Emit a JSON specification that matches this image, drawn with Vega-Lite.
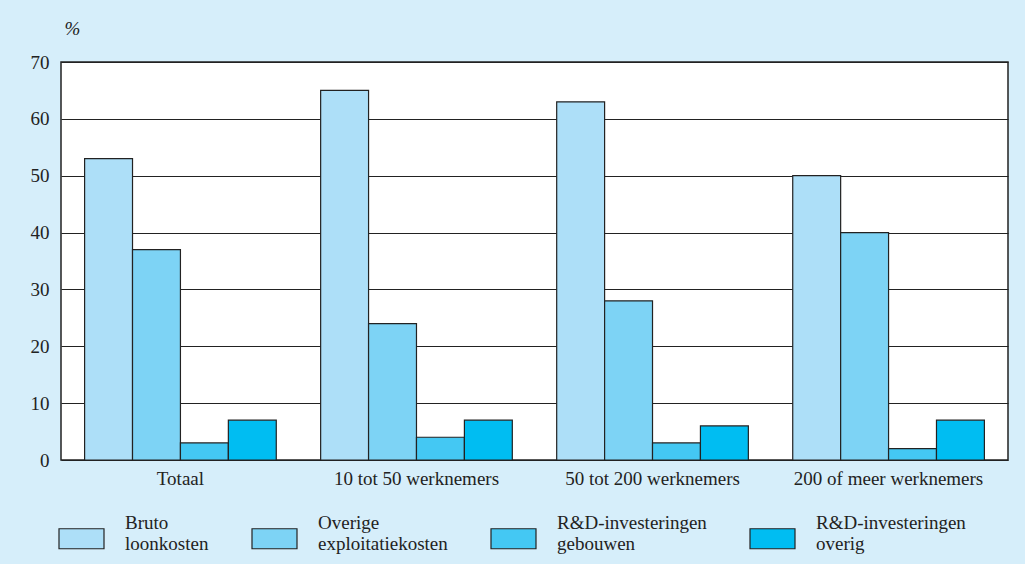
{
  "$schema": "https://vega.github.io/schema/vega-lite/v6.json",
  "autosize": {"type": "none"},
  "width": 947,
  "height": 398,
  "padding": {"left": 61, "top": 62, "right": 17, "bottom": 104},
  "background": "#d6eefa",
  "config": {
    "font": "Liberation Serif",
    "view": {"fill": "white", "stroke": "#222", "strokeWidth": 1.5},
    "axis": {"labelFont": "Liberation Serif", "titleFont": "Liberation Serif", "labelColor": "#222", "titleColor": "#222"},
    "legend": {"labelFont": "Liberation Serif", "labelColor": "#222"}
  },
  "data": {
    "values": [
      {"groep": "Totaal", "kosten": "Bruto loonkosten", "pct": 53},
      {"groep": "Totaal", "kosten": "Overige exploitatiekosten", "pct": 37},
      {"groep": "Totaal", "kosten": "R&D-investeringen gebouwen", "pct": 3},
      {"groep": "Totaal", "kosten": "R&D-investeringen overig", "pct": 7},
      {"groep": "10 tot 50 werknemers", "kosten": "Bruto loonkosten", "pct": 65},
      {"groep": "10 tot 50 werknemers", "kosten": "Overige exploitatiekosten", "pct": 24},
      {"groep": "10 tot 50 werknemers", "kosten": "R&D-investeringen gebouwen", "pct": 4},
      {"groep": "10 tot 50 werknemers", "kosten": "R&D-investeringen overig", "pct": 7},
      {"groep": "50 tot 200 werknemers", "kosten": "Bruto loonkosten", "pct": 63},
      {"groep": "50 tot 200 werknemers", "kosten": "Overige exploitatiekosten", "pct": 28},
      {"groep": "50 tot 200 werknemers", "kosten": "R&D-investeringen gebouwen", "pct": 3},
      {"groep": "50 tot 200 werknemers", "kosten": "R&D-investeringen overig", "pct": 6},
      {"groep": "200 of meer werknemers", "kosten": "Bruto loonkosten", "pct": 50},
      {"groep": "200 of meer werknemers", "kosten": "Overige exploitatiekosten", "pct": 40},
      {"groep": "200 of meer werknemers", "kosten": "R&D-investeringen gebouwen", "pct": 2},
      {"groep": "200 of meer werknemers", "kosten": "R&D-investeringen overig", "pct": 7}
    ]
  },
  "mark": {"type": "bar", "stroke": "#222", "strokeWidth": 1.2},
  "encoding": {
    "x": {
      "field": "groep",
      "type": "nominal",
      "sort": null,
      "scale": {"paddingInner": 0.188, "paddingOuter": 0.1},
      "axis": {"title": null, "labelAngle": 0, "labelFontSize": 19, "labelLimit": 400, "ticks": false, "domain": false, "labelPadding": 9}
    },
    "xOffset": {"field": "kosten", "type": "nominal", "sort": null},
    "y": {
      "field": "pct",
      "type": "quantitative",
      "scale": {"domain": [0, 70]},
      "axis": {
        "values": [0, 10, 20, 30, 40, 50, 60, 70],
        "title": "%",
        "titleAngle": 0,
        "titleFontStyle": "italic",
        "titleFontWeight": "normal",
        "titleFontSize": 19,
        "titleX": 3,
        "titleY": -24,
        "titleAlign": "left",
        "labelFontSize": 19,
        "labelPadding": 12,
        "ticks": false,
        "domain": false,
        "grid": true,
        "gridColor": "#222",
        "gridWidth": 1.2,
        "gridOpacity": 1
      }
    },
    "color": {
      "field": "kosten",
      "type": "nominal",
      "sort": null,
      "scale": {"range": ["#addff8", "#7dd3f5", "#44c8f3", "#00bdf2"]},
      "legend": {
        "title": null,
        "orient": "none",
        "legendX": -3,
        "legendY": 447,
        "direction": "horizontal",
        "columns": 4,
        "columnPadding": 40,
        "symbolType": "M-1,-0.178H1V0.711H-1Z",
        "symbolSize": 2025,
        "symbolStrokeColor": "#222",
        "symbolStrokeWidth": 1.2,
        "symbolOpacity": 1,
        "labelFontSize": 19,
        "labelLineHeight": 25,
        "labelBaseline": "bottom",
        "labelOffset": 20,
        "labelLimit": 300,
        "labelExpr": "datum.label == 'Bruto loonkosten' ? ['Bruto', 'loonkosten'] : datum.label == 'Overige exploitatiekosten' ? ['Overige', 'exploitatiekosten'] : datum.label == 'R&D-investeringen gebouwen' ? ['R&D-investeringen', 'gebouwen'] : ['R&D-investeringen', 'overig']"
      }
    }
  }
}
